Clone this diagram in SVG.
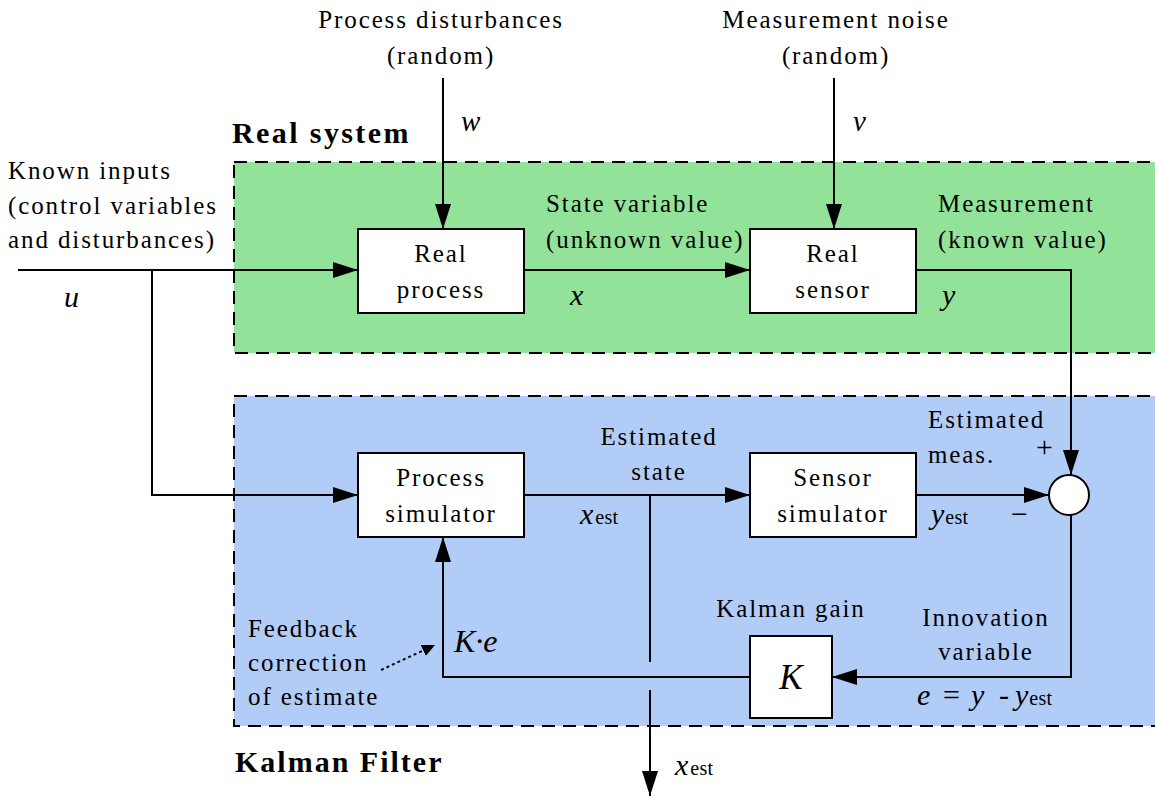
<svg xmlns="http://www.w3.org/2000/svg" width="1155" height="796" viewBox="0 0 1155 796" font-family="'Liberation Serif', 'Times New Roman', serif">
<style>
text{font-family:'Liberation Serif','Times New Roman',serif;font-size:25px;fill:#000;letter-spacing:1.9px}
.c{text-anchor:middle}
.i{font-style:italic;font-size:30px;letter-spacing:0}
.b{font-weight:bold;font-size:30px;letter-spacing:2.4px}
.sub{font-size:20px;font-style:normal;letter-spacing:0.3px}
.box{fill:#fff;stroke:#000;stroke-width:2}
.ln{fill:none;stroke:#000;stroke-width:2}
.reg{stroke:#000;stroke-width:2;stroke-dasharray:13 8}
</style>
<defs>
<marker id="ah" markerUnits="userSpaceOnUse" markerWidth="26" markerHeight="18" refX="25" refY="9" orient="auto">
<path d="M0,1 L25,9 L0,17 Z" fill="#000"/>
</marker>
<marker id="sh" markerUnits="userSpaceOnUse" markerWidth="14" markerHeight="12" refX="13" refY="6" orient="auto">
<path d="M0,0 L13,6 L0,12 Z" fill="#000"/>
</marker>
</defs>
<rect width="1155" height="796" fill="#fff"/>
<g id="real-system-region">
<rect class="reg" x="234" y="162" width="930" height="191" fill="#93E29A"/>
<text class="b" x="232" y="143">Real system</text>
</g>
<g id="kalman-filter-region">
<rect class="reg" x="234" y="396" width="930" height="330" fill="#B2CCF8"/>
<text class="b" x="235" y="772" style="letter-spacing:2.0px">Kalman Filter</text>
</g>
<g id="connectors">
<path class="ln" d="M18,270 H358" marker-end="url(#ah)"/>
<path class="ln" d="M152,270 V495 H358" marker-end="url(#ah)"/>
<path class="ln" d="M443,78 V229" marker-end="url(#ah)"/>
<path class="ln" d="M834,78 V229" marker-end="url(#ah)"/>
<path class="ln" d="M524,270 H750" marker-end="url(#ah)"/>
<path class="ln" d="M916,270 H1071 V475" marker-end="url(#ah)"/>
<path class="ln" d="M524,495 H750" marker-end="url(#ah)"/>
<path class="ln" d="M916,495 H1049" marker-end="url(#ah)"/>
<path class="ln" d="M1071,515 V677 H832" marker-end="url(#ah)"/>
<path class="ln" d="M750,677 H443 V537" marker-end="url(#ah)"/>
<path class="ln" d="M650,495 V662"/>
<path class="ln" d="M650,690 V796" marker-end="url(#ah)"/>
<path class="ln" d="M381,670 L435,645" stroke-dasharray="3 3" marker-end="url(#sh)"/>
</g>
<g id="real-process">
<rect class="box" x="358" y="229" width="166" height="84"/>
<text class="c" x="441" y="262">Real</text>
<text class="c" x="441" y="298">process</text>
</g>
<g id="real-sensor">
<rect class="box" x="750" y="229" width="166" height="84"/>
<text class="c" x="833" y="262">Real</text>
<text class="c" x="833" y="298">sensor</text>
</g>
<g id="process-simulator">
<rect class="box" x="358" y="453" width="166" height="84"/>
<text class="c" x="441" y="486">Process</text>
<text class="c" x="441" y="522">simulator</text>
</g>
<g id="sensor-simulator">
<rect class="box" x="750" y="453" width="166" height="84"/>
<text class="c" x="833" y="486">Sensor</text>
<text class="c" x="833" y="522">simulator</text>
</g>
<g id="kalman-gain">
<rect class="box" x="750" y="636" width="82" height="82"/>
<text class="c i" x="791" y="689" style="font-size:35px">K</text>
</g>
<g id="sum-junction">
<circle cx="1069" cy="495" r="20" fill="#fff" stroke="#000" stroke-width="2"/>
</g>
<g id="labels">
<text class="c" x="441" y="28">Process disturbances</text>
<text class="c" x="441" y="64">(random)</text>
<text class="c" x="836" y="28">Measurement noise</text>
<text class="c" x="836" y="64">(random)</text>
<text class="i" x="461" y="131" style="font-size:29px">w</text>
<text class="i" x="853" y="131" style="font-size:29px">v</text>
<text x="8" y="179">Known inputs</text>
<text x="8" y="214">(control variables</text>
<text x="8" y="248">and disturbances)</text>
<text class="i" x="64" y="307">u</text>
<text x="546" y="212">State variable</text>
<text x="546" y="248">(unknown value)</text>
<text x="938" y="212">Measurement</text>
<text x="938" y="248">(known value)</text>
<text class="i" x="570" y="305">x</text>
<text class="i" x="942" y="305">y</text>
<text class="c" x="659" y="445">Estimated</text>
<text class="c" x="659" y="480">state</text>
<text x="928" y="428">Estimated</text>
<text x="928" y="463">meas.</text>
<text x="1036" y="457" style="letter-spacing:0;font-size:30px">+</text>
<text x="1011" y="524" style="letter-spacing:0;font-size:30px">−</text>
<text class="i" x="580" y="524">x<tspan class="sub" dx="2">est</tspan></text>
<text class="i" x="931" y="524">y<tspan class="sub" dx="1">est</tspan></text>
<text class="c" x="791" y="617">Kalman gain</text>
<text class="c" x="986" y="626">Innovation</text>
<text class="c" x="986" y="660">variable</text>
<g id="innovation-formula">
<text class="i" x="917" y="705">e</text>
<text x="943" y="705" style="font-size:30px;letter-spacing:0">=</text>
<text class="i" x="971" y="705">y</text>
<text x="999" y="705" style="font-size:30px;letter-spacing:0">-</text>
<text class="i" x="1015" y="705">y<tspan class="sub" dx="1">est</tspan></text>
</g>
<text class="i" x="454" y="652" style="font-size:32px">K·e</text>
<text x="248" y="637">Feedback</text>
<text x="248" y="671">correction</text>
<text x="248" y="705">of estimate</text>
<text class="i" x="675" y="775">x<tspan class="sub" dx="2">est</tspan></text>
</g>
</svg>
